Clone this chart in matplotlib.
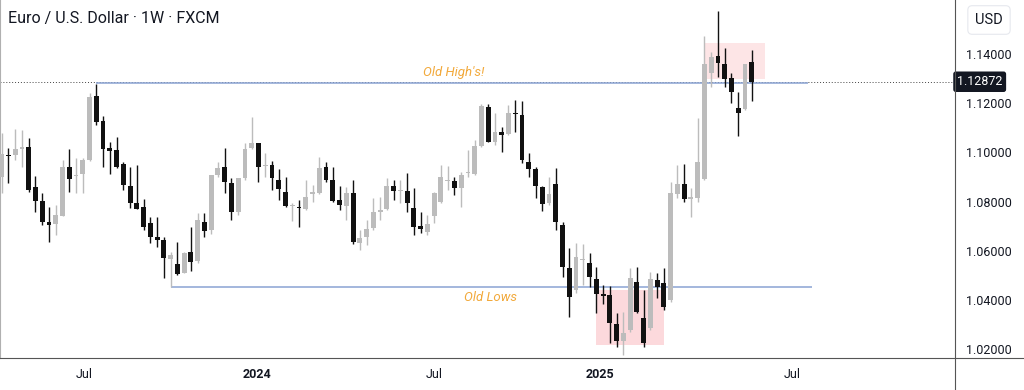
import matplotlib.pyplot as plt
import matplotlib.transforms as mtransforms
from matplotlib.lines import Line2D
from matplotlib.patches import Rectangle
import numpy as np

plt.rcParams["font.family"] = ["Roboto", "DejaVu Sans"]

# weekly EUR/USD candles (oldest first)
opens = [
    1.0900, 1.0989, 1.0991, 1.1014, 1.1023, 1.0861, 1.0802, 1.0718, 1.0708, 1.0743,
    1.0939, 1.0906, 1.0911, 1.0969, 1.1230, 1.1126, 1.1018, 1.1010, 1.0952, 1.0865,
    1.0793, 1.0776, 1.0714, 1.0657, 1.0644, 1.0566, 1.0546, 1.0511, 1.0596, 1.0560,
    1.0718, 1.0685, 1.0908, 1.0942, 1.0874, 1.0759, 1.0895, 1.1017, 1.1037, 1.0944,
    1.0949, 1.0888, 1.0840, 1.0783, 1.0779, 1.0769, 1.0831, 1.0834, 1.0942, 1.0888,
    1.0807, 1.0782, 1.0834, 1.0633, 1.0655, 1.0691, 1.0759, 1.0769, 1.0863, 1.0845,
    1.0843, 1.0775, 1.0702, 1.0678, 1.0741, 1.0800, 1.0884, 1.0885, 1.0854, 1.0915,
    1.0911, 1.1026, 1.1186, 1.1043, 1.1084, 1.1075, 1.1160, 1.1152, 1.0962, 1.0931,
    1.0861, 1.0793, 1.0871, 1.0705, 1.0529, 1.0441, 1.0563, 1.0552, 1.0484, 1.0424,
    1.0420, 1.0302, 1.0234, 1.0278, 1.0472, 1.0326, 1.0285, 1.0481, 1.0468, 1.0400,
    1.0832, 1.0872, 1.0811, 1.0816, 1.0892, 1.1321, 1.1393, 1.1358, 1.1301, 1.1182,
    1.1176, 1.1366,
]
highs = [
    1.1079, 1.1018, 1.1095, 1.1091, 1.1059, 1.0904, 1.0834, 1.0779, 1.0786, 1.0969,
    1.1014, 1.0976, 1.0976, 1.1243, 1.1278, 1.1148, 1.1044, 1.1064, 1.0962, 1.0942,
    1.0949, 1.0809, 1.0739, 1.0736, 1.0655, 1.0596, 1.0637, 1.0597, 1.0698, 1.0753,
    1.0755, 1.0910, 1.0962, 1.1017, 1.0895, 1.0897, 1.1037, 1.1145, 1.1040, 1.0998,
    1.0967, 1.0933, 1.0900, 1.0794, 1.0807, 1.0888, 1.0867, 1.0983, 1.0962, 1.0942,
    1.0863, 1.0858, 1.0888, 1.0685, 1.0725, 1.0815, 1.0820, 1.0896, 1.0888, 1.0888,
    1.0915, 1.0854, 1.0759, 1.0746, 1.0840, 1.0949, 1.0945, 1.0901, 1.0922, 1.1010,
    1.1050, 1.1197, 1.1197, 1.1159, 1.1104, 1.1193, 1.1213, 1.1210, 1.0996, 1.0939,
    1.0863, 1.0901, 1.0935, 1.0718, 1.0610, 1.0630, 1.0627, 1.0592, 1.0533, 1.0461,
    1.0457, 1.0346, 1.0352, 1.0529, 1.0535, 1.0441, 1.0515, 1.0508, 1.0529, 1.0881,
    1.0949, 1.0952, 1.0855, 1.1139, 1.1474, 1.1409, 1.1575, 1.1423, 1.1321, 1.1244,
    1.1358, 1.1416,
]
lows = [
    1.0835, 1.0876, 1.0969, 1.0942, 1.0839, 1.0759, 1.0705, 1.0637, 1.0664, 1.0740,
    1.0840, 1.0836, 1.0834, 1.0965, 1.1111, 1.0942, 1.0912, 1.0935, 1.0847, 1.0773,
    1.0768, 1.0685, 1.0633, 1.0617, 1.0491, 1.0453, 1.0502, 1.0509, 1.0519, 1.0549,
    1.0657, 1.0668, 1.0901, 1.0834, 1.0725, 1.0746, 1.0888, 1.1013, 1.0881, 1.0900,
    1.0847, 1.0807, 1.0778, 1.0722, 1.0697, 1.0766, 1.0800, 1.0831, 1.0881, 1.0800,
    1.0766, 1.0725, 1.0628, 1.0603, 1.0624, 1.0685, 1.0725, 1.0766, 1.0807, 1.0793,
    1.0759, 1.0664, 1.0671, 1.0664, 1.0712, 1.0793, 1.0847, 1.0827, 1.0779, 1.0901,
    1.0908, 1.1023, 1.1043, 1.1030, 1.1003, 1.1071, 1.1084, 1.0956, 1.0901, 1.0813,
    1.0763, 1.0786, 1.0685, 1.0495, 1.0332, 1.0427, 1.0461, 1.0452, 1.0346, 1.0383,
    1.0224, 1.0210, 1.0177, 1.0271, 1.0346, 1.0210, 1.0278, 1.0407, 1.0359, 1.0393,
    1.0813, 1.0797, 1.0738, 1.0800, 1.0888, 1.1267, 1.1308, 1.1267, 1.1199, 1.1068,
    1.1172, 1.1209,
]
closes = [
    1.0994, 1.0985, 1.1015, 1.1023, 1.0847, 1.0804, 1.0718, 1.0705, 1.0746, 1.0939,
    1.0891, 1.0910, 1.0969, 1.1226, 1.1122, 1.1013, 1.1007, 1.0942, 1.0868, 1.0793,
    1.0770, 1.0696, 1.0655, 1.0644, 1.0570, 1.0584, 1.0504, 1.0592, 1.0556, 1.0725,
    1.0682, 1.0908, 1.0935, 1.0878, 1.0759, 1.0895, 1.1013, 1.1037, 1.0939, 1.0948,
    1.0895, 1.0850, 1.0782, 1.0786, 1.0773, 1.0817, 1.0838, 1.0935, 1.0888, 1.0804,
    1.0786, 1.0834, 1.0637, 1.0651, 1.0687, 1.0757, 1.0766, 1.0863, 1.0844, 1.0849,
    1.0795, 1.0698, 1.0689, 1.0709, 1.0836, 1.0901, 1.0887, 1.0854, 1.0908, 1.0922,
    1.1027, 1.1189, 1.1043, 1.1084, 1.1071, 1.1161, 1.1155, 1.0969, 1.0931, 1.0863,
    1.0790, 1.0831, 1.0718, 1.0535, 1.0413, 1.0573, 1.0566, 1.0495, 1.0424, 1.0418,
    1.0305, 1.0234, 1.0267, 1.0490, 1.0352, 1.0227, 1.0484, 1.0454, 1.0373, 1.0834,
    1.0872, 1.0811, 1.0820, 1.0962, 1.1358, 1.1389, 1.1362, 1.1298, 1.1247, 1.1159,
    1.1358, 1.12872,
]

last_price = 1.12872
old_high = 1.1282
old_low = 1.0453
price_ticks = [1.02, 1.04, 1.06, 1.08, 1.10, 1.12, 1.14]
time_tick_pos = [13.2, 38.8, 65.0, 89.5, 118.0]
time_tick_labels = ["Jul", "2024", "Jul", "2025", "Jul"]

UP = "#bcbcbc"
DOWN = "#111111"
LINE_BLUE = "#8aa3d3"
NOTE = "#f2a93b"

W, H = 1024, 390
fig = plt.figure(figsize=(W / 100, H / 100), dpi=100)
ax = fig.add_axes([0, 32 / H, 955 / W, 358 / H])

o = np.array(opens)
h = np.array(highs)
l = np.array(lows)
c = np.array(closes)
x = np.arange(1, len(o) + 1)
colors = np.where(c >= o, UP, DOWN)

ax.vlines(x, l, h, colors=colors, linewidth=1.0, zorder=3)
body_low = np.minimum(o, c)
body_h = np.maximum(np.abs(c - o), 0.0003)
ax.bar(x, body_h, bottom=body_low, width=0.72, color=colors, linewidth=0, zorder=4)

# shaded zones
ax.add_patch(Rectangle((89, 1.0216), 10, 1.0441 - 1.0216,
                       facecolor="#f23645", alpha=0.19, linewidth=0, zorder=2))
ax.add_patch(Rectangle((105, 1.1298), 9, 1.1444 - 1.1298,
                       facecolor="#f23645", alpha=0.13, linewidth=0, zorder=2))

# horizontal levels
ax.axhline(last_price, color="#444444", linestyle=(0, (1, 2)), linewidth=0.7, zorder=1)
ax.hlines(old_high, 15, 120.3, color=LINE_BLUE, linewidth=1.1, zorder=2)
ax.hlines(old_low, 26, 120.9, color=LINE_BLUE, linewidth=1.1, zorder=2)
ax.text(67.9, 1.1325, "Old High's!", color=NOTE, fontsize=9.5, style="italic",
        ha="center", va="center")
ax.text(73.4, 1.0410, "Old Lows", color=NOTE, fontsize=9.5, style="italic",
        ha="center", va="center")

ax.set_xlim(0.748, 142.08)
ax.set_ylim(1.01642, 1.16195)

ax.yaxis.tick_right()
ax.set_yticks(price_ticks)
ax.set_yticklabels([f"{p:.5f}" for p in price_ticks])
ax.tick_params(axis="y", length=0, pad=8, labelsize=9, labelcolor="#131722")
ax.set_xticks(time_tick_pos)
ax.set_xticklabels(time_tick_labels)
ax.tick_params(axis="x", length=0, pad=7, labelsize=9, labelcolor="#131722")
for lab in ax.get_xticklabels():
    if lab.get_text().isdigit():
        lab.set_fontweight("bold")
for s in ax.spines.values():
    s.set_visible(False)
ax.spines["left"].set_visible(True)
ax.spines["left"].set_color("#b0b0b0")

# frame lines of the price / time scales
fig.add_artist(Line2D([0, 1], [32 / H, 32 / H], color="#555555", linewidth=0.8))
fig.add_artist(Line2D([955 / W, 955 / W], [0, 1], color="#555555", linewidth=0.8))

# current price marker
trans = mtransforms.blended_transform_factory(fig.transFigure, ax.transData)
ax.text(957 / W, last_price, f"{last_price:.5f}", transform=trans, color="white",
        fontsize=9, ha="left", va="center", zorder=10, clip_on=False,
        bbox=dict(boxstyle="round,pad=0.3,rounding_size=0.2", facecolor="#131722",
                  edgecolor="none"))

fig.text(8 / W, 1 - 18 / H, "Euro / U.S. Dollar \u00b7 1W \u00b7 FXCM", fontsize=11.5,
         color="#131722", ha="left", va="center")
fig.text(989 / W, 1 - 20 / H, "USD", fontsize=10.5, color="#131722", ha="center",
         va="center",
         bbox=dict(boxstyle="round,pad=0.5,rounding_size=0.3", facecolor="white",
                   edgecolor="#e6e8ee", linewidth=0.8))

fig.savefig("out.png", dpi=100)
